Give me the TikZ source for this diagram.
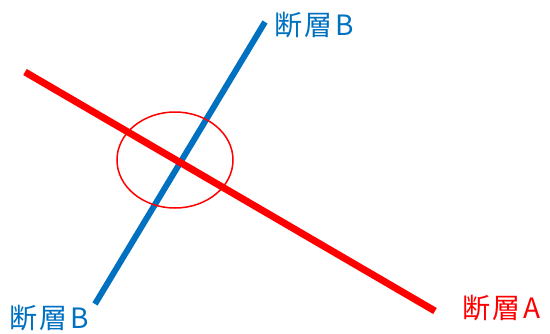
\documentclass[tikz,border=0pt]{standalone}
\usepackage{fontspec}
\setmainfont{Noto Sans CJK JP}[LetterSpace=10]
\usepackage{xcolor}
\usetikzlibrary{math}
\definecolor{faultblue}{RGB}{0,112,192}
\definecolor{faultred}{RGB}{255,0,0}
\tikzset{
label/.style={font=\fontsize{28}{30}\selectfont, anchor=west, inner sep=0},
}

\begin{document}
\begin{tikzpicture}[x=1pt,y=-1pt]
\tikzmath{
\W=550;
\H=333;
}
\useasboundingbox (0,0) rectangle (\W,\H);

\coordinate (b1) at (95,304);
\coordinate (b2) at (265,22);
\coordinate (a1) at (25,72);
\coordinate (a2) at (435,311);

\draw[faultblue, line width=6] (b1) -- (b2);
\draw[faultred, line width=7] (a1) -- (a2);

\draw[faultred, line width=1.5] (175,160) ellipse (58 and 48);

\node[label, text=faultblue] (topB) at (274,25) {断層B};
\node[label, text=faultblue] (botB) at (9,318) {断層B};
\node[label, text=faultred] (faultA) at (462,308) {断層A};

\end{tikzpicture}
\end{document}
